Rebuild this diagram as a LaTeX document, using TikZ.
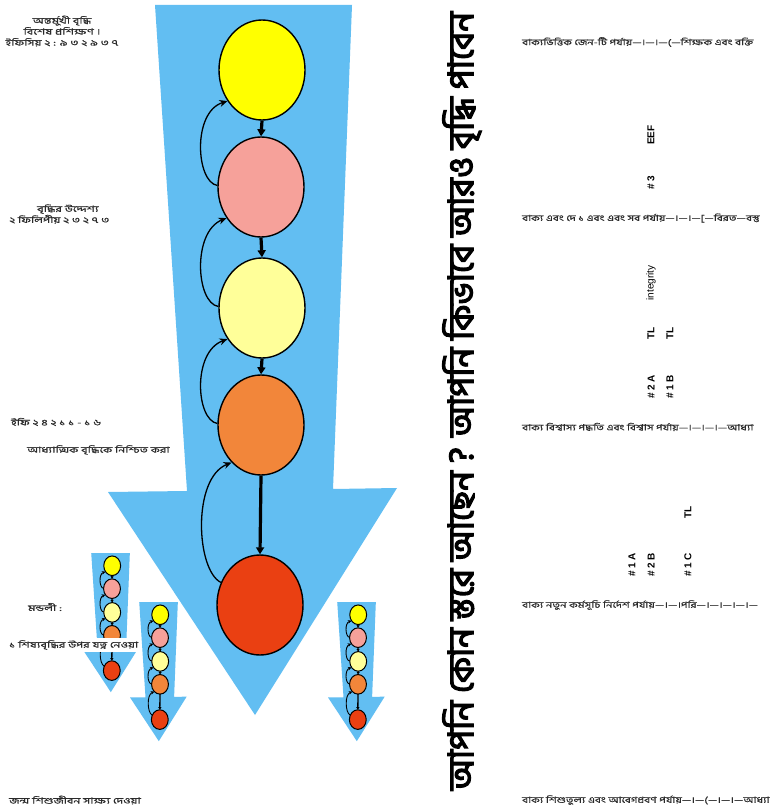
\documentclass[tikz,border=0pt]{standalone}
\usepackage{fontspec}
\setmainfont{Liberation Sans}
\newfontfamily\bn[Script=Bengali, FakeStretch=1.45, FakeBold=0.6]{Hind Siliguri}
\newfontfamily\bnrow[Script=Bengali, FakeStretch=1.35, FakeBold=0.6]{Hind Siliguri}
\newfontfamily\bntitle[Script=Bengali, FakeBold=3.5]{Hind Siliguri}
\usetikzlibrary{shapes.geometric,arrows.meta}
\definecolor{arrowblue}{HTML}{62BEF2}
\definecolor{cyel}{HTML}{FFFF00}
\definecolor{cpink}{HTML}{F6A19A}
\definecolor{clyel}{HTML}{FFFF99}
\definecolor{corange}{HTML}{F2863A}
\definecolor{cred}{HTML}{EA4012}
\definecolor{txtgray}{HTML}{2A2A2A}
\tikzset{
  stage/.style={ellipse, draw=black, minimum width=86pt, minimum height=100pt, inner sep=0pt},
  lefttext/.style={font=\bn\fontsize{8.5}{11}\selectfont, text=txtgray, inner sep=1pt, align=center},
  whitebox/.style={lefttext, fill=white, inner sep=2pt},
  rowtext/.style={font=\bnrow\fontsize{8.5}{10}\selectfont, text=txtgray, inner sep=0pt, anchor=west},
  tag/.style={font=\bfseries\fontsize{10}{11}\selectfont, rotate=90, inner sep=0pt},
}
\newcommand\growthset[2]{%
\begin{scope}[every node/.append style={transform shape}, #2]
  \fill[arrowblue] (155,5) -- (352,5) -- (333,489) -- (397,488) -- (255,715) -- (108,492) -- (187,491) -- cycle;
  \node[stage, stageline, fill=cyel]    (#1a) at (262,70)  {};
  \node[stage, stageline, fill=cpink]   (#1b) at (261,187) {};
  \node[stage, stageline, fill=clyel]   (#1c) at (262,308) {};
  \node[stage, stageline, fill=corange] (#1d) at (261,425) {};
  \node[stage, stageline, fill=cred]    (#1e) at (260,605) {};
  \draw[downarr] (#1a.south) -- (#1b.north);
  \draw[downarr] (#1b.south) -- (#1c.north);
  \draw[downarr] (#1c.south) -- (#1d.north);
  \draw[downarr] (#1d.south) -- (#1e.north);
  \draw[looparr] (#1b.178) .. controls (196,182) and (192,112) .. (#1a.222);
  \draw[looparr] (#1c.178) .. controls (196,303) and (192,232) .. (#1b.222);
  \draw[looparr] (#1d.178) .. controls (196,420) and (192,352) .. (#1c.222);
  \draw[looparr] (#1e.150) .. controls (196,570) and (192,478) .. (#1d.232);
\end{scope}}
\begin{document}
\begin{tikzpicture}[x=1pt,y=-1pt]
\clip (0,0) rectangle (779,810);
\fill[white] (0,0) rectangle (779,810);

% main diagram
\growthset{m}{stageline/.style={line width=1.4pt},
  downarr/.style={line width=3.2pt, -{Triangle[length=7pt,width=8pt]}},
  looparr/.style={line width=1.3pt, -{Stealth[length=8pt,width=7pt]}}}

% small copies
\growthset{p}{shift={(112,553)}, scale=0.196, shift={(-261,-5)},
  stageline/.style={line width=1pt},
  downarr/.style={line width=1.3pt, -{Triangle[length=2.5pt,width=3pt]}},
  looparr/.style={line width=0.9pt, -{Stealth[length=3.5pt,width=3.5pt]}}}
\growthset{q}{shift={(160,602)}, scale=0.196, shift={(-261,-5)},
  stageline/.style={line width=1pt},
  downarr/.style={line width=1.3pt, -{Triangle[length=2.5pt,width=3pt]}},
  looparr/.style={line width=0.9pt, -{Stealth[length=3.5pt,width=3.5pt]}}}
\growthset{s}{shift={(358,602)}, scale=0.196, shift={(-261,-5)},
  stageline/.style={line width=1pt},
  downarr/.style={line width=1.3pt, -{Triangle[length=2.5pt,width=3pt]}},
  looparr/.style={line width=0.9pt, -{Stealth[length=3.5pt,width=3.5pt]}}}

% left texts
\node[lefttext] (t1) at (62,31) {অন্তর্মুখী বৃদ্ধি\\বিশেষ প্রশিক্ষণ ।\\ইফিসিয় ২ : ৯ ৩ ২ ৯ ৩ ৭};
\node[lefttext, align=left, anchor=west] (t2) at (8,214) {\hspace*{28pt}বৃদ্ধির উদ্দেশ্য\\২ ফিলিপীয় ২ ৩ ২ ৭ ৩};
\node[lefttext, anchor=west] (t3) at (10,422) {ইফি ২ ৪ ২ ১ ১ - ১ ৬};
\node[whitebox, anchor=west] (t4) at (25,450) {আধ্যাত্মিক বৃদ্ধিকে নিশ্চিত করা};
\node[lefttext] (t5) at (45,607) {মন্ডলী :};
\node[whitebox, anchor=west] (t6) at (7,645) {১ শিষ্যবৃদ্ধির উপর যত্ন নেওয়া};
\node[lefttext, anchor=west] (t7) at (8,800) {জন্ম শিশুজীবন সাক্ষ্য দেওয়া};

% title
\node[rotate=90, inner sep=0pt] (title) at (462,401)
  {\resizebox{778pt}{!}{\bntitle আপনি কোন স্তরে আছেন ? আপনি কিভাবে আরও বৃদ্ধি পাবেন}};

% right rows
\node[rowtext] (r1) at (522,42)  {বাক্যভিত্তিক জেন-টি পর্যায়—।—।—(—শিক্ষক এবং বক্তি};
\node[rowtext] (r2) at (522,218) {বাক্য এবং দে ১ এবং এবং সব পর্যায়—।—।—[—বিরত—বস্তু};
\node[rowtext] (r3) at (522,427) {বাক্য বিশ্বাস্য পদ্ধতি এবং বিশ্বাস পর্যায়—।—।—।—আধ্যা};
\node[rowtext] (r4) at (522,605) {বাক্য নতুন কর্মসূচি নির্দেশ পর্যায়—।—।পরি—।—।—।—।—};
\node[rowtext] (r5) at (522,800) {বাক্য শিশুতুল্য এবং আবেগপ্রবণ পর্যায়—।—(—।—।—আধ্যা};

% rotated tags
\node[tag] (g1) at (651,135) {EEF};
\node[tag] (g2) at (651,183) {\# 3};
\node[tag, font=\fontsize{10}{11}\selectfont] (g3) at (651,283) {integrity};
\node[tag] (g4) at (651,333) {TL};
\node[tag] (g5) at (670,333) {TL};
\node[tag] (g6) at (651,387) {\# 2 A};
\node[tag] (g7) at (670,387) {\# 1 B};
\node[tag] (g8) at (688,512) {TL};
\node[tag] (g9) at (632,565) {\# 1 A};
\node[tag] (g10) at (651,565) {\# 2 B};
\node[tag] (g11) at (688,565) {\# 1 C};
\end{tikzpicture}
\end{document}
